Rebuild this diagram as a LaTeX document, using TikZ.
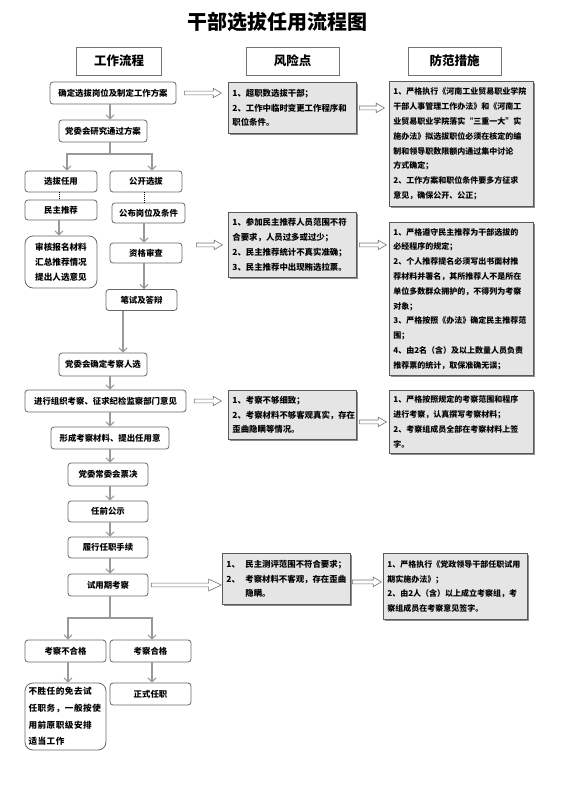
\documentclass[tikz,border=0pt]{standalone}
\usepackage{fontspec}
\setmainfont{Noto Sans CJK SC}
\newfontfamily\widecjk[LetterSpace=6]{Noto Sans CJK SC}
\usetikzlibrary{arrows.meta,shapes.arrows,shadows,calc}

\begin{document}
\begin{tikzpicture}[x=1pt, y=-1pt,
        flow/.style={draw=black!60, fill=white, rounded corners=3pt, line width=0.8pt, minimum height=22, inner sep=2pt, font=\fontsize{8.4}{10}\selectfont\bfseries, align=center},
        header/.style={draw=black!55, fill=white, minimum height=28, font=\fontsize{12.5}{15}\selectfont\bfseries},
        risk/.style={draw=black!65, fill=black!10, line width=0.8pt, anchor=north west, align=left, inner sep=4pt, font=\fontsize{8.4}{14.8}\selectfont\bfseries, drop shadow={shadow xshift=2pt, shadow yshift=-2pt, fill=black!45, opacity=1}},
        check/.style={risk, font=\fontsize{8}{14.8}\selectfont\bfseries},
        arrow/.style={-{Straight Barb[length=4pt, width=8pt]}, draw=black!40, line width=1.1pt},
        link/.style={draw=black!40, line width=1.1pt},
        dots/.style={densely dotted, line width=1pt},
        hollow/.style={single arrow, draw=black!55, fill=white, inner sep=1.6pt, single arrow head extend=2.8pt, single arrow tip angle=60, anchor=tip, line width=0.6pt}
    ]
    \useasboundingbox (0,0) rectangle (560,792);

    % Title and column headers
    \node[font=\fontsize{20}{24}\selectfont\bfseries] (title) at (277,22) {干部选拔任用流程图};
    \node[header, minimum width=85] (hflow) at (119,61) {工作流程};
    \node[header, minimum width=93] (hrisk) at (292.5,61) {风险点};
    \node[header, minimum width=93] (hcheck) at (454.5,61) {防范措施};

    % Work flow
    \node[flow, minimum width=126] (plan) at (113,93) {确定选拔岗位及制定工作方案};
    \node[flow, minimum width=88] (study) at (103,131) {党委会研究通过方案};
    \node[flow, minimum width=72, minimum height=21] (appoint) at (61,181.5) {选拔任用};
    \node[flow, minimum width=72, minimum height=21] (open) at (146,181.5) {公开选拔};
    \node[flow, minimum width=72, minimum height=20] (recommend) at (61,210) {民主推荐};
    \node[flow, minimum width=73, minimum height=20] (publish) at (148.5,213) {公布岗位及条件};
    \node[flow, minimum width=72, minimum height=52, rounded corners=8pt, font=\fontsize{8.6}{15}\selectfont\bfseries] (review) at (61,262) {审核报名材料\\汇总推荐情况\\提出人选意见};
    \node[flow, minimum width=72, minimum height=20] (qualify) at (146,253) {资格审查};
    \node[flow, minimum width=71, minimum height=21] (exam) at (141.5,300) {笔试及答辩};
    \node[flow, minimum width=88, minimum height=23] (candidate) at (103,364.5) {党委会确定考察人选};
    \node[flow, minimum width=161] (inspect) at (105.5,401) {进行组织考察、征求纪检监察部门意见};
    \node[flow, minimum width=118] (material) at (110,438) {形成考察材料、提出任用意};
    \node[flow, minimum width=80, minimum height=23] (vote) at (108,474.5) {党委常委会票决};
    \node[flow, minimum width=80, minimum height=21] (notice) at (108,511.5) {任前公示};
    \node[flow, minimum width=80, minimum height=21] (formal) at (108,547.5) {履行任职手续};
    \node[flow, minimum width=80] (trial) at (108,585) {试用期考察};
    \node[flow, minimum width=81] (fail) at (65.5,651) {考察不合格};
    \node[flow, minimum width=81] (pass) at (150.5,651) {考察合格};
    \node[flow, minimum width=81, minimum height=67, rounded corners=8pt, align=left, text width=74, font=\widecjk\fontsize{8.6}{16.7}\selectfont\bfseries] (dismiss) at (65.5,716.5) {不胜任的免去试\\任职务，一般按使\\用前原职级安排\\适当工作};
    \node[flow, minimum width=81] (office) at (150.5,694) {正式任职};

    % Risk points
    \node[risk, text width=120, minimum height=51] (r1) at (228,82) {1、超职数选拔干部；\\2、工作中临时变更工作程序和\\职位条件。};
    \node[risk, text width=120, minimum height=65] (r2) at (228,212) {1、参加民主推荐人员范围不符\\合要求，人员过多或过少；\\2、民主推荐统计不真实准确；\\3、民主推荐中出现贿选拉票。};
    \node[risk, text width=120, minimum height=49] (r3) at (228,390) {1、考察不够细致；\\2、考察材料不够客观真实，存在\\歪曲隐瞒等情况。};
    \node[risk, text width=120, minimum height=51] (r4) at (222,553) {\makebox[19pt][l]{1、}民主测评范围不符合要求；\\\makebox[19pt][l]{2、}考察材料不客观，存在歪曲\\\hspace*{19pt}隐瞒。};

    % Preventive measures
    \node[check, text width=136, minimum height=125] (m1) at (389,81) {1、严格执行《河南工业贸易职业学院\\干部人事管理工作办法》和《河南工\\业贸易职业学院落实“三重一大”实\\施办法》拟选拔职位必须在核定的编\\制和领导职数限额内通过集中讨论\\方式确定；\\2、工作方案和职位条件要多方征求\\意见，确保公开、公正；};
    \node[check, text width=136, minimum height=153] (m2) at (389,222) {1、严格遵守民主推荐为干部选拔的\\必经程序的规定；\\2、个人推荐提名必须写出书面材推\\荐材料并署名，其所推荐人不是所在\\单位多数群众拥护的，不得列为考察\\对象；\\3、严格按照《办法》确定民主推荐范\\围；\\4、由2名（含）及以上数量人员负责\\推荐票的统计，取保准确无误；};
    \node[check, text width=136, minimum height=63] (m3) at (389,390) {1、严格按照规定的考察范围和程序\\进行考察，认真撰写考察材料；\\2、考察组成员全部在考察材料上签\\字。};
    \node[check, text width=136, minimum height=66] (m4) at (383,553) {1、严格执行《党政领导干部任职试用\\期实施办法》；\\2、由2人（含）以上成立考察组，考\\察组成员在考察意见签字。};

    % Flow arrows
    \coordinate (axis) at (110,0);
    \coordinate (split1) at (110,154);
    \coordinate (split2) at (110,618);
    \draw[arrow] (plan.south -| axis) -- (study.north -| axis);
    \draw[link] (study.south -| axis) -- (split1);
    \draw[arrow] (split1) -| ([xshift=6]appoint.north);
    \draw[arrow] (split1) -| ([xshift=6]open.north);
    \draw[dots] ([xshift=-2]appoint.south) -- ([xshift=-2]recommend.north);
    \draw[dots] ([xshift=-2]open.south) -- ([xshift=-4.5]publish.north);
    \draw[arrow] ([xshift=-2]recommend.south) -- ([xshift=-2]review.north);
    \draw[arrow] ([xshift=-4.5]publish.south) -- ([xshift=-2]qualify.north);
    \draw[arrow] ([xshift=-2]qualify.south) -- ([xshift=2.5]exam.north);
    \draw[arrow] ([xshift=-18.5]exam.south) -- ([xshift=20]candidate.north);
    \draw[arrow] (candidate.south -| axis) -- (inspect.north -| axis);
    \draw[arrow] (inspect.south -| axis) -- (material.north -| axis);
    \draw[arrow] (material.south -| axis) -- (vote.north -| axis);
    \draw[arrow] (vote.south -| axis) -- (notice.north -| axis);
    \draw[arrow] (notice.south -| axis) -- (formal.north -| axis);
    \draw[arrow] (formal.south -| axis) -- (trial.north -| axis);
    \draw[link] (trial.south -| axis) -- (split2);
    \draw[arrow] (split2) -| ([xshift=2.5]fail.north);
    \draw[arrow] (split2) -| ([xshift=1.5]pass.north);
    \draw[arrow] ([xshift=2.5]fail.south) -- ([xshift=2.5]dismiss.north);
    \draw[arrow] ([xshift=1.5]pass.south) -- ([xshift=1.5]office.north);

    % Hollow arrows to risks and measures
    \node[hollow, minimum height=37] (a1) at ($(r1.west |- plan.east)+(-6,0)$) {};
    \node[hollow, minimum height=26] (a2) at ($(r2.west)+(-5,0)$) {};
    \node[hollow, minimum height=27] (a3) at ($(r3.west |- inspect.east)+(-6,0)$) {};
    \node[hollow, minimum height=70, single arrow head extend=4pt, single arrow tip angle=50] (a4) at (r4.west |- trial.east) {};
    \node[hollow, minimum height=25] (b1) at ($(m1.west |- r1.east)+(-4,0)$) {};
    \node[hollow, minimum height=27] (b2) at ($(m2.west |- r2.east)+(-2,0)$) {};
    \node[hollow, minimum height=27] (b3) at ($(m3.west)+(-2,0)$) {};
    \node[hollow, minimum height=29] (b4) at ($(m4.west |- r4.east)+(-1,3)$) {};

\end{tikzpicture}
\end{document}
